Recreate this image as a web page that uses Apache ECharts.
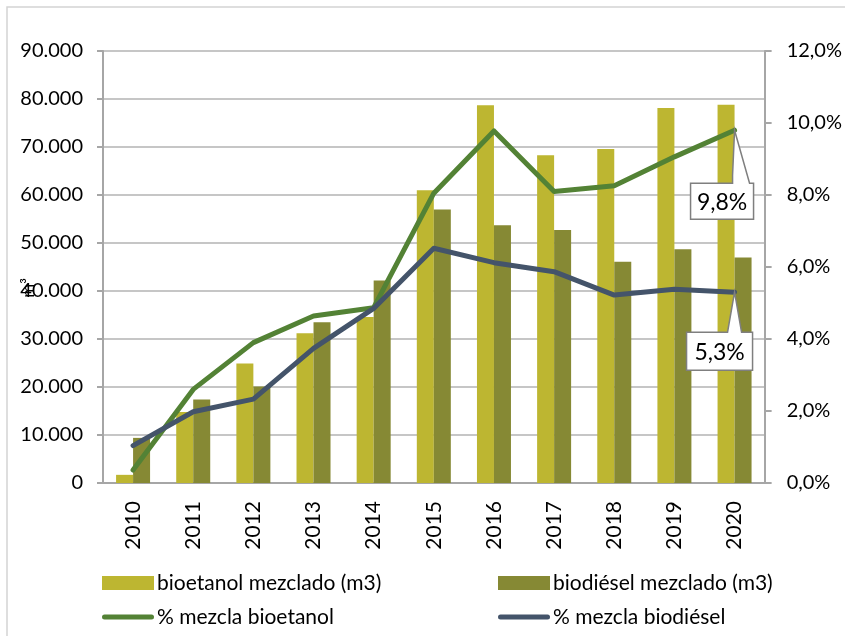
<!DOCTYPE html>
<html>
<head>
<meta charset="utf-8">
<script src="https://cdn.jsdelivr.net/npm/echarts@6/dist/echarts.min.js"></script>
<style>
  html, body { margin: 0; padding: 0; background: #fff; }
  #chart { width: 845px; height: 636px; }
</style>
</head>
<body>
<div id="chart"></div>
<script>
// Años
const years = ['2010', '2011', '2012', '2013', '2014', '2015', '2016', '2017', '2018', '2019', '2020'];
// Volúmenes mezclados (m3)
const bioetanolM3 = [1700, 14800, 24900, 31200, 34600, 61000, 78700, 68300, 69600, 78100, 78800];
const biodieselM3 = [9400, 17400, 20100, 33500, 42200, 57000, 53700, 52700, 46100, 48700, 47000];
// Porcentaje de mezcla (%)
const mezclaBioetanol = [0.36, 2.6, 3.9, 4.64, 4.87, 8.05, 9.78, 8.1, 8.26, 9.06, 9.8];
const mezclaBiodiesel = [1.04, 1.98, 2.33, 3.74, 4.85, 6.52, 6.12, 5.87, 5.22, 5.38, 5.3];

const FONT = 'Lato, "Open Sans", sans-serif';
const GRID_COLOR = '#b3b3b3';
const AXIS_COLOR = '#a6a6a6';
const LINE_ICON = 'path://M2.5,0 H49.5 A2.5,2.5 0 0 1 49.5,5 H2.5 A2.5,2.5 0 0 1 2.5,0 Z';

const fmtThousands = v => String(v).replace(/\B(?=(\d{3})+(?!\d))/g, '.');
const fmtPct = v => v.toFixed(1).replace('.', ',') + '%';

const chart = echarts.init(document.getElementById('chart'), null, { renderer: 'canvas' });

const legendBase = {
  orient: 'horizontal',
  itemWidth: 52,
  itemHeight: 14,
  itemGap: 0,
  textStyle: { fontFamily: FONT, fontSize: 21, color: '#000', lineHeight: 22, padding: [0, 0, 0, -2] },
  selectedMode: false
};

chart.setOption({
  animation: false,
  backgroundColor: '#fff',
  grid: { left: 103, right: 80, top: 51, bottom: 153, containLabel: false },
  legend: [
    Object.assign({}, legendBase, { data: [{ name: 'bioetanol mezclado (m3)', icon: 'rect' }], left: 97, top: 567 }),
    Object.assign({}, legendBase, { data: [{ name: 'biodiésel mezclado (m3)', icon: 'rect' }], left: 493, top: 567 }),
    Object.assign({}, legendBase, { itemHeight: 5, data: [{ name: '% mezcla bioetanol', icon: LINE_ICON }], left: 97, top: 601 }),
    Object.assign({}, legendBase, { itemHeight: 5, data: [{ name: '% mezcla biodiésel', icon: LINE_ICON }], left: 493, top: 601 })
  ],
  xAxis: {
    type: 'category',
    data: years,
    boundaryGap: true,
    axisLine: { lineStyle: { color: AXIS_COLOR, width: 2 } },
    axisTick: { alignWithLabel: true, length: 6, lineStyle: { color: AXIS_COLOR, width: 2 } },
    axisLabel: { rotate: 90, fontFamily: FONT, fontSize: 21, color: '#000', margin: 18 }
  },
  yAxis: [
    {
      type: 'value',
      min: 0, max: 90000, interval: 10000,
      axisLine: { show: true, lineStyle: { color: AXIS_COLOR, width: 2 } },
      axisTick: { show: true, length: 6, lineStyle: { color: AXIS_COLOR, width: 2 } },
      splitLine: { lineStyle: { color: GRID_COLOR, width: 1.5 } },
      axisLabel: { fontFamily: FONT, fontSize: 20, color: '#000', margin: 20, formatter: fmtThousands }
    },
    {
      type: 'value',
      min: 0, max: 12, interval: 2,
      position: 'right',
      axisLine: { show: true, lineStyle: { color: AXIS_COLOR, width: 2 } },
      axisTick: { show: true, length: 7, lineStyle: { color: AXIS_COLOR, width: 2 } },
      splitLine: { show: false },
      axisLabel: { fontFamily: FONT, fontSize: 20, color: '#000', margin: 22, formatter: fmtPct }
    }
  ],
  series: [
    {
      name: 'bioetanol mezclado (m3)', type: 'bar', data: bioetanolM3,
      barWidth: 17, barGap: '0%',
      itemStyle: { color: '#bdb631' }
    },
    {
      name: 'biodiésel mezclado (m3)', type: 'bar', data: biodieselM3,
      barWidth: 17, barGap: '0%',
      itemStyle: { color: '#868934' }
    },
    {
      name: '% mezcla bioetanol', type: 'line', yAxisIndex: 1, data: mezclaBioetanol,
      symbol: 'none', lineStyle: { color: '#538235', width: 5, cap: 'round', join: 'round' },
      itemStyle: { color: '#538235' }
    },
    {
      name: '% mezcla biodiésel', type: 'line', yAxisIndex: 1, data: mezclaBiodiesel,
      symbol: 'none', lineStyle: { color: '#44546a', width: 5, cap: 'round', join: 'round' },
      itemStyle: { color: '#44546a' }
    }
  ]
});

// Recuadros de valor final con puntero hacia el último punto de cada línea
function callout(seriesIndex, values, box) {
  const last = values.length - 1;
  const p = chart.convertToPixel({ seriesIndex: seriesIndex }, [last, values[last]]);
  const [px, py] = p;
  const l = px + box.dx, t = py + box.dy, r = l + box.w, b = t + box.h;
  const bl = px + box.b0, br = px + box.b1;
  return {
    type: 'group',
    children: [
      {
        type: 'polygon',
        shape: { points: [[l, t], [bl, t], [bl, t - box.stem], [px, py], [br, t], [r, t], [r, b], [l, b]] },
        style: { fill: '#fff', stroke: '#7f7f7f', lineWidth: 1.5 },
        z: 100
      },
      {
        type: 'text',
        x: (l + r) / 2, y: (t + b) / 2 + 1,
        style: { text: fmtPct(values[last]), fontFamily: FONT, fontSize: 23, fill: '#000', align: 'center', verticalAlign: 'middle' },
        z: 101
      }
    ]
  };
}

chart.setOption({
  graphic: [
    // marco exterior
    { type: 'polyline', shape: { points: [[7, 636], [7, 7], [845, 7]] }, style: { stroke: '#d4d4d4', lineWidth: 1.5, fill: null }, z: 0 },
    // unidad del eje izquierdo
    { type: 'text', x: 29, y: 288, rotation: Math.PI / 2, style: { text: 'm³', fontFamily: FONT, fontSize: 17, fill: '#000', align: 'center', verticalAlign: 'middle' }, z: 50 },
    callout(2, mezclaBioetanol, { dx: -44, dy: 53, w: 63, h: 36, b0: -2, b1: 15, stem: 8 }),
    callout(3, mezclaBiodiesel, { dx: -48, dy: 40, w: 66, h: 38, b0: -7, b1: 7, stem: 0 })
  ]
});
</script>
</body>
</html>
